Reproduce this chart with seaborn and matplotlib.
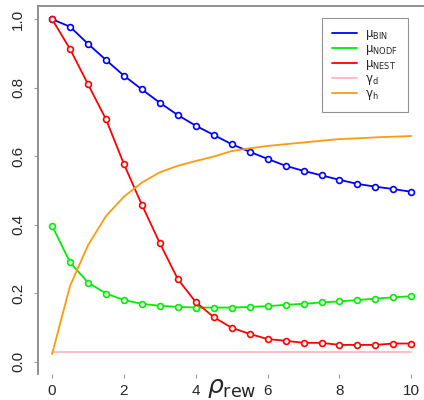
import numpy as np
import pandas as pd
import seaborn as sns
import matplotlib.pyplot as plt

# -----------------------------
# Datos
# -----------------------------
p_rew = [0, 0.5, 1, 1.5, 2, 2.5, 3, 3.5, 4, 4.5, 5,
         5.5, 6, 6.5, 7, 7.5, 8, 8.5, 9, 9.5, 10]

mu_bin = [1.0, 0.978, 0.928, 0.881, 0.835, 0.795, 0.756, 0.720, 0.689, 0.662, 0.635,
          0.613, 0.592, 0.572, 0.557, 0.544, 0.531, 0.519, 0.511, 0.504, 0.496]
mu_nodf = [0.397, 0.290, 0.231, 0.199, 0.180, 0.169, 0.163, 0.160, 0.158, 0.158, 0.158,
           0.160, 0.162, 0.166, 0.169, 0.173, 0.176, 0.180, 0.184, 0.188, 0.191]
mu_nest = [1.0, 0.913, 0.810, 0.708, 0.577, 0.458, 0.346, 0.241, 0.174, 0.130, 0.099,
           0.081, 0.066, 0.061, 0.055, 0.055, 0.049, 0.049, 0.049, 0.053, 0.053]
gamma_d = [0.029] * 21
gamma_h = [0.022, 0.221, 0.340, 0.425, 0.482, 0.523, 0.553, 0.572, 0.586, 0.599, 0.615,
           0.623, 0.630, 0.635, 0.640, 0.645, 0.650, 0.652, 0.655, 0.657, 0.659]

series_names = [r'$\mathrm{\mu}_{\mathrm{BIN}}$', r'$\mathrm{\mu}_{\mathrm{NODF}}$',
                r'$\mathrm{\mu}_{\mathrm{NEST}}$', r'$\mathrm{\gamma}_{\mathrm{d}}$',
                r'$\mathrm{\gamma}_{\mathrm{h}}$']
series_vals = [mu_bin, mu_nodf, mu_nest, gamma_d, gamma_h]
colores = ['#0000FF', '#00EE00', '#FF0000', '#FFB6C1', '#FF9A0E']
con_marcador = [True, True, True, False, False]

sns.set_style("white")
plt.rcParams['font.family'] = ['Liberation Sans', 'DejaVu Sans']

fig = plt.figure(figsize=(4.24, 4.0), dpi=100)
ax = fig.add_axes([37.7 / 424, 1 - 374 / 400, 388 / 424, (374 - 5.5) / 400])

for nombre, vals, col, mk in zip(series_names, series_vals, colores, con_marcador):
    df = pd.DataFrame({"p": p_rew, "v": vals})
    if mk:
        sns.lineplot(data=df, x="p", y="v", ax=ax, color=col, linewidth=1.3,
                     marker='o', markersize=4.2, markerfacecolor='white',
                     markeredgecolor=col, markeredgewidth=1.2, label=nombre)
    else:
        sns.lineplot(data=df, x="p", y="v", ax=ax, color=col, linewidth=1.3, label=nombre)

ax.set_xlim(-0.4, 10.4)
ax.set_ylim(-0.036, 1.04)
ax.set_xticks([0, 2, 4, 6, 8, 10])
ax.set_yticks([0.0, 0.2, 0.4, 0.6, 0.8, 1.0])
ax.set_yticklabels(["0.0", "0.2", "0.4", "0.6", "0.8", "1.0"], rotation=90, va='center')
ax.tick_params(axis='both', labelsize=11, length=3, color='#999999', width=0.8,
               left=True, bottom=True, pad=4)
ax.tick_params(axis='y', pad=6)
ax.set_xlabel("")
ax.set_ylabel("")

for lado in ['right', 'bottom']:
    ax.spines[lado].set_visible(False)
for lado in ['left', 'top']:
    ax.spines[lado].set_color('#888888')
    ax.spines[lado].set_linewidth(1.3)

fig.text(232 / 424, 1 - 388 / 400, r'$\rho_{\mathrm{rew}}$', fontsize=18,
         ha='center', va='center')

leg = ax.legend(loc='upper left', bbox_to_anchor=((321.7 - 37.7) / 388, 1 - (18.3 - 5.5) / 368.5),
                fontsize=8.5, frameon=True, fancybox=False, handlelength=2.1,
                handletextpad=0.7, labelspacing=0.08, borderpad=0.85, borderaxespad=0)
leg.get_frame().set_edgecolor('#777777')
leg.get_frame().set_linewidth(0.8)
for h in leg.get_lines():
    h.set_marker('')

fig.savefig("out.png", dpi=100)
